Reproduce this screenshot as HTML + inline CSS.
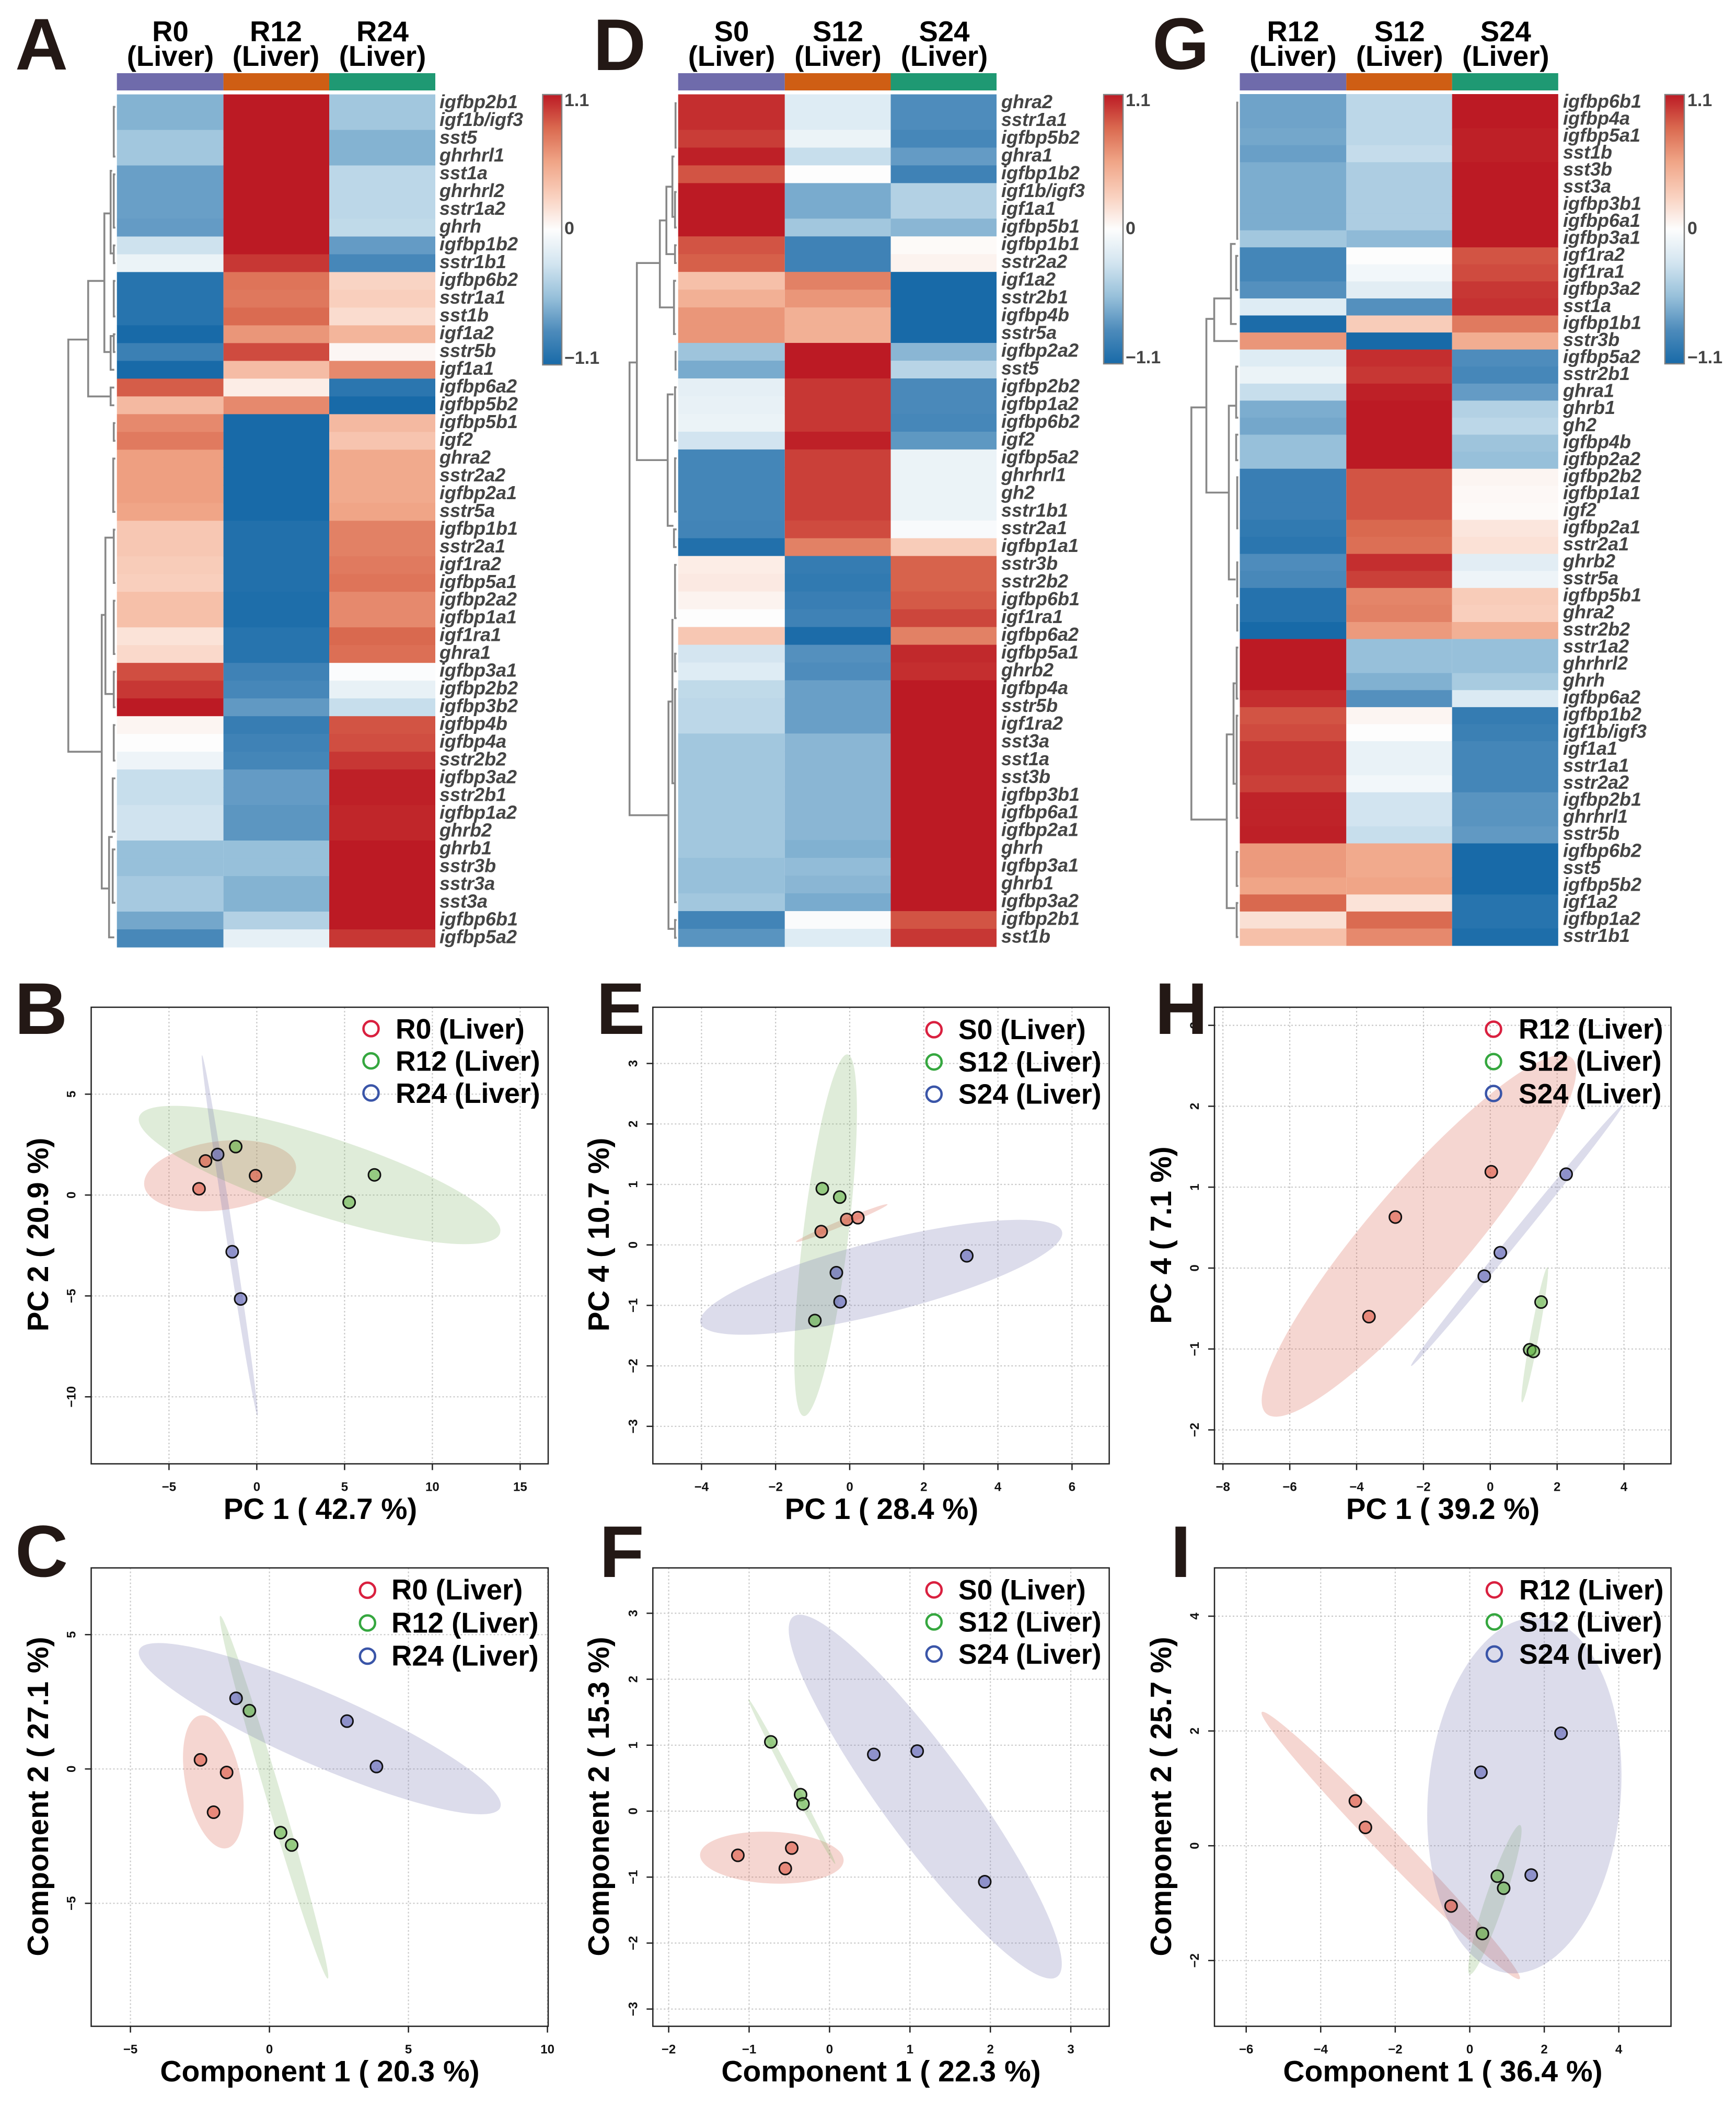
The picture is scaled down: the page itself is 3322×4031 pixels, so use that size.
<!DOCTYPE html>
<html lang="en">
<head>
<meta charset="utf-8">
<title>Liver heatmaps and ordination plots</title>
<style>
html,body{margin:0;padding:0;background:#fff;}
svg{display:block;font-family:"Liberation Sans",Arial,sans-serif;}
.letter{font-size:140px;font-weight:700;fill:#231815;}
.head{font-size:54.5px;font-weight:700;fill:#000;text-anchor:middle;}
.title{font-size:56.5px;font-weight:700;fill:#000;text-anchor:middle;}
.title2{font-size:57px;font-weight:700;fill:#000;text-anchor:middle;}
.leg{font-size:53.5px;font-weight:700;fill:#000;}
.leg2{font-size:54.5px;font-weight:700;fill:#000;}
.cb{font-size:34px;font-weight:700;fill:#444;}
</style>
</head>
<body>
<svg id="fig" xmlns="http://www.w3.org/2000/svg" width="3322" height="4031" viewBox="0 0 3322 4031">
<defs>
<linearGradient id="cbGrad" x1="0" y1="0" x2="0" y2="1">
<stop offset="0" stop-color="#bc1a24"/><stop offset=".125" stop-color="#da6a50"/><stop offset=".25" stop-color="#f0a587"/><stop offset=".375" stop-color="#f9d0be"/><stop offset=".5" stop-color="#fdfdfd"/><stop offset=".625" stop-color="#d3e5f0"/><stop offset=".75" stop-color="#97c0da"/><stop offset=".875" stop-color="#4d8bbb"/><stop offset="1" stop-color="#186aa8"/>
</linearGradient>
</defs>
<rect width="3322" height="4031" fill="#fff"/>

<g id="heat-a"></g>
<g id="heat-d"></g>
<g id="heat-g"></g>
<g id="plot-b"></g>
<g id="plot-c"></g>
<g id="plot-e"></g>
<g id="plot-f"></g>
<g id="plot-h"></g>
<g id="plot-i"></g>

<g>
<text class="head" x="326" y="79">R0</text><text class="head" x="326" y="126">(Liver)</text>
<text class="head" x="528" y="79">R12</text><text class="head" x="528" y="126">(Liver)</text>
<text class="head" x="732" y="79">R24</text><text class="head" x="732" y="126">(Liver)</text>
<text class="cb" x="1080" y="203">1.1</text><text class="cb" x="1080" y="448">0</text><text class="cb" x="1080" y="696">−1.1</text>
</g>
<g>
<text class="head" x="1400" y="79">S0</text><text class="head" x="1400" y="126">(Liver)</text>
<text class="head" x="1603.5" y="79">S12</text><text class="head" x="1603.5" y="126">(Liver)</text>
<text class="head" x="1807" y="79">S24</text><text class="head" x="1807" y="126">(Liver)</text>
<text class="cb" x="2154" y="203">1.1</text><text class="cb" x="2154" y="448">0</text><text class="cb" x="2154" y="695">−1.1</text>
</g>
<g>
<text class="head" x="2474.4" y="79">R12</text><text class="head" x="2474.4" y="126">(Liver)</text>
<text class="head" x="2678.2" y="79">S12</text><text class="head" x="2678.2" y="126">(Liver)</text>
<text class="head" x="2881.3" y="79">S24</text><text class="head" x="2881.3" y="126">(Liver)</text>
<text class="cb" x="3229" y="203">1.1</text><text class="cb" x="3229" y="448">0</text><text class="cb" x="3229" y="695">−1.1</text>
</g>

<g>
<text class="title" x="613" y="2906">PC 1 ( 42.7 %)</text>
<text class="title" transform="translate(92 2362) rotate(-90)">PC 2 ( 20.9 %)</text>
<text class="title2" x="612" y="3982">Component 1 ( 20.3 %)</text>
<text class="title2" transform="translate(92 3437) rotate(-90)">Component 2 ( 27.1 %)</text>
<text class="title" x="1687" y="2906">PC 1 ( 28.4 %)</text>
<text class="title" transform="translate(1165 2362) rotate(-90)">PC 4 ( 10.7 %)</text>
<text class="title2" x="1686" y="3982">Component 1 ( 22.3 %)</text>
<text class="title2" transform="translate(1165 3437) rotate(-90)">Component 2 ( 15.3 %)</text>
<text class="title" x="2761" y="2906">PC 1 ( 39.2 %)</text>
<text class="title" transform="translate(2241 2363) rotate(-90)">PC 4 ( 7.1 %)</text>
<text class="title2" x="2761" y="3982">Component 1 ( 36.4 %)</text>
<text class="title2" transform="translate(2241 3437) rotate(-90)">Component 2 ( 25.7 %)</text>
</g>

<g fill="none" stroke-width="4.5">
<circle cx="710" cy="1968" r="14.5" stroke="#d9203f"/><circle cx="710" cy="2029.6" r="14.5" stroke="#35a73f"/><circle cx="710" cy="2091" r="14.5" stroke="#3a55a8"/>
<text class="leg" x="757" y="1987" stroke="none">R0 (Liver)</text><text class="leg" x="757" y="2048.5" stroke="none">R12 (Liver)</text><text class="leg" x="757" y="2110" stroke="none">R24 (Liver)</text>
</g>
<g fill="none" stroke-width="4.5">
<circle cx="703.3" cy="3042.4" r="14.5" stroke="#d9203f"/><circle cx="703.3" cy="3105" r="14.5" stroke="#35a73f"/><circle cx="703.3" cy="3168.5" r="14.5" stroke="#3a55a8"/>
<text class="leg2" x="749" y="3060" stroke="none">R0 (Liver)</text><text class="leg2" x="749" y="3123.7" stroke="none">R12 (Liver)</text><text class="leg2" x="749" y="3186.5" stroke="none">R24 (Liver)</text>
</g>
<g fill="none" stroke-width="4.5">
<circle cx="1787.3" cy="1970" r="14.5" stroke="#d9203f"/><circle cx="1787.3" cy="2031.7" r="14.5" stroke="#35a73f"/><circle cx="1787.3" cy="2093.4" r="14.5" stroke="#3a55a8"/>
<text class="leg" x="1834" y="1988" stroke="none">S0 (Liver)</text><text class="leg" x="1834" y="2050" stroke="none">S12 (Liver)</text><text class="leg" x="1834" y="2111.7" stroke="none">S24 (Liver)</text>
</g>
<g fill="none" stroke-width="4.5">
<circle cx="1787.3" cy="3041.7" r="14.5" stroke="#d9203f"/><circle cx="1787.3" cy="3103" r="14.5" stroke="#35a73f"/><circle cx="1787.3" cy="3164.4" r="14.5" stroke="#3a55a8"/>
<text class="leg" x="1834" y="3060" stroke="none">S0 (Liver)</text><text class="leg" x="1834" y="3121.7" stroke="none">S12 (Liver)</text><text class="leg" x="1834" y="3183" stroke="none">S24 (Liver)</text>
</g>
<g fill="none" stroke-width="4.5">
<circle cx="2858" cy="1969" r="14.5" stroke="#d9203f"/><circle cx="2858" cy="2031" r="14.5" stroke="#35a73f"/><circle cx="2858" cy="2092" r="14.5" stroke="#3a55a8"/>
<text class="leg" x="2906" y="1987" stroke="none">R12 (Liver)</text><text class="leg" x="2906" y="2048.5" stroke="none">S12 (Liver)</text><text class="leg" x="2906" y="2111" stroke="none">S24 (Liver)</text>
</g>
<g fill="none" stroke-width="4.5">
<circle cx="2859.5" cy="3041.7" r="14.5" stroke="#d9203f"/><circle cx="2859.5" cy="3103" r="14.5" stroke="#35a73f"/><circle cx="2859.5" cy="3164.4" r="14.5" stroke="#3a55a8"/>
<text class="leg" x="2907" y="3060" stroke="none">R12 (Liver)</text><text class="leg" x="2907" y="3121.7" stroke="none">S12 (Liver)</text><text class="leg" x="2907" y="3183" stroke="none">S24 (Liver)</text>
</g>

<g>
<text class="letter" x="29" y="133">A</text>
<text class="letter" x="28" y="1978">B</text>
<text class="letter" x="29" y="3016">C</text>
<text class="letter" x="1135" y="134">D</text>
<text class="letter" x="1141" y="1978">E</text>
<text class="letter" x="1147" y="3017">F</text>
<text class="letter" x="2205" y="132">G</text>
<text class="letter" x="2210" y="1978">H</text>
<text class="letter" x="2240" y="3017">I</text>
</g>
</svg>

<script>
/* ---------- Heatmap A ---------- */
const aGenes = ["igfbp2b1","igf1b/igf3","sst5","ghrhrl1","sst1a","ghrhrl2","sstr1a2","ghrh","igfbp1b2","sstr1b1","igfbp6b2","sstr1a1","sst1b","igf1a2","sstr5b","igf1a1","igfbp6a2","igfbp5b2","igfbp5b1","igf2","ghra2","sstr2a2","igfbp2a1","sstr5a","igfbp1b1","sstr2a1","igf1ra2","igfbp5a1","igfbp2a2","igfbp1a1","igf1ra1","ghra1","igfbp3a1","igfbp2b2","igfbp3b2","igfbp4b","igfbp4a","sstr2b2","igfbp3a2","sstr2b1","igfbp1a2","ghrb2","ghrb1","sstr3b","sstr3a","sst3a","igfbp6b1","igfbp5a2"];
const aR0 = [-.62,-.62,-.5,-.5,-.72,-.72,-.72,-.74,-.3,-.12,-1.02,-1.02,-1.02,-1.1,-.92,-1.1,.87,.42,.68,.75,.58,.58,.58,.55,.33,.33,.3,.28,.38,.38,.16,.22,.92,1.0,1.1,.05,0,-.1,-.33,-.33,-.29,-.29,-.55,-.55,-.48,-.48,-.68,-.85];
const aR12 = [1.1,1.1,1.1,1.1,1.1,1.1,1.1,1.1,1.1,1.0,.78,.76,.82,.62,.93,.4,.1,.68,-1.1,-1.1,-1.1,-1.1,-1.1,-1.1,-1.05,-1.05,-1.05,-1.05,-1.07,-1.07,-1.02,-1.02,-.9,-.86,-.75,-.94,-.9,-.87,-.74,-.74,-.77,-.77,-.55,-.55,-.62,-.62,-.42,-.15];
const aR24 = [-.5,-.5,-.62,-.62,-.38,-.38,-.38,-.36,-.74,-.86,.25,.28,.2,.45,.04,.68,-1.0,-1.1,.42,.35,.52,.52,.52,.55,.72,.72,.75,.78,.68,.68,.83,.8,-.01,-.14,-.33,.9,.92,1.0,1.08,1.08,1.06,1.06,1.1,1.1,1.1,1.1,1.1,1.0];
const aDend = [[93,13.8,37,55,29],[55,10.5,17,24,12],[24,6.7,14.5,12,12],[12,16.5,17.5,5,5],[12,4.3,8.95,9,5],[12,13.6,15.5,7,5],[29,29.3,44.7,22,15],[22,24.95,33.75,7,7],[15,41.8,47.45,8,5],[6,.7,3.5,3,3],[6,4.5,7.5,3,3],[6,8.5,9.5,3,3],[6,10.5,12.5,3,3],[6,13.5,14.5,3,3],[6,18.5,19.5,3,3],[7,20.5,23.5,3,3],[6,24.5,27.5,3,3],[6,28.5,31.5,3,3],[6,32.5,34.5,3,3],[6,35.5,37.5,3,3],[8,38.5,41.5,3,3],[8,42.5,45.5,3,3]];

/* ---------- Heatmap D ---------- */
const dGenes = ["ghra2","sstr1a1","igfbp5b2","ghra1","igfbp1b2","igf1b/igf3","igf1a1","igfbp5b1","igfbp1b1","sstr2a2","igf1a2","sstr2b1","igfbp4b","sstr5a","igfbp2a2","sst5","igfbp2b2","igfbp1a2","igfbp6b2","igf2","igfbp5a2","ghrhrl1","gh2","sstr1b1","sstr2a1","igfbp1a1","sstr3b","sstr2b2","igfbp6b1","igf1ra1","igfbp6a2","igfbp5a1","ghrb2","igfbp4a","sstr5b","igf1ra2","sst3a","sst1a","sst3b","igfbp3b1","igfbp6a1","igfbp2a1","ghrh","igfbp3a1","ghrb1","igfbp3a2","igfbp2b1","sst1b"];
const dS0 = [1.03,1.03,.98,1.08,.9,1.1,1.1,1.1,.9,.86,.38,.48,.62,.62,-.52,-.66,-.16,-.14,-.12,-.28,-.87,-.87,-.87,-.87,-.88,-1.05,.1,.12,.06,0,.33,-.27,-.2,-.36,-.38,-.38,-.5,-.5,-.5,-.5,-.5,-.5,-.5,-.55,-.55,-.5,-.88,-.78];
const dS12 = [-.2,-.2,-.12,-.33,0,-.66,-.66,-.5,-.9,-.9,.72,.62,.48,.48,1.1,1.1,1.0,1.0,1.0,1.08,.97,.97,.97,.97,.93,.72,-.95,-.97,-.93,-.9,-1.08,-.8,-.82,-.72,-.72,-.72,-.6,-.6,-.6,-.6,-.6,-.6,-.63,-.57,-.6,-.66,-.02,-.2];
const dS24 = [-.82,-.82,-.86,-.74,-.9,-.42,-.42,-.6,.02,.06,-1.1,-1.1,-1.1,-1.1,-.6,-.4,-.84,-.84,-.86,-.76,-.12,-.12,-.12,-.12,-.03,.3,.85,.85,.88,.95,.72,1.05,1.03,1.1,1.1,1.1,1.1,1.1,1.1,1.1,1.1,1.1,1.1,1.1,1.1,1.1,.9,1.0];
const dDend = [[93,15.1,40.6,79,18.5],[79,9.5,20.6,35,20],[35,7.1,12,22.5,8],[22.5,5.2,9,11,7],[11,3.5,6.9,7,7],[8,10.5,13.5,4,4],[20,16.9,24.3,9,9],[18.5,34.2,47,11,8],[11,29.6,38.8,9,7],[5,.5,3,3,3],[6,5.5,7.5,3,3],[6,8.5,9.5,3,3],[5,14.5,15.5,3,3],[6,16.5,19.5,3,3],[6,20.5,23.5,3,3],[8,24.5,25.5,3,3],[6,26.5,29.5,3,3],[6,31.5,32.5,3,3],[6,33.5,45.5,3,3],[6,46.5,47.5,3,3]];

/* ---------- Heatmap G ---------- */
const gGenes = ["igfbp6b1","igfbp4a","igfbp5a1","sst1b","sst3b","sst3a","igfbp3b1","igfbp6a1","igfbp3a1","igf1ra2","igf1ra1","igfbp3a2","sst1a","igfbp1b1","sstr3b","igfbp5a2","sstr2b1","ghra1","ghrb1","gh2","igfbp4b","igfbp2a2","igfbp2b2","igfbp1a1","igf2","igfbp2a1","sstr2a1","ghrb2","sstr5a","igfbp5b1","ghra2","sstr2b2","sstr1a2","ghrhrl2","ghrh","igfbp6a2","igfbp1b2","igf1b/igf3","igf1a1","sstr1a1","sstr2a2","igfbp2b1","ghrhrl1","sstr5b","igfbp6b2","sst5","igfbp5b2","igf1a2","igfbp1a2","sstr1b1"];
const gR12 = [-.7,-.7,-.68,-.72,-.65,-.65,-.65,-.65,-.5,-.87,-.87,-.8,-.2,-1.08,.62,-.2,-.12,-.33,-.65,-.68,-.55,-.55,-.93,-.93,-.93,-.97,-1.0,-.82,-.85,-1.03,-1.03,-1.1,1.1,1.1,1.1,1.03,.9,.93,1.0,1.0,.97,1.07,1.07,1.08,.6,.6,.55,.83,.18,.38];
const gS12 = [-.38,-.38,-.38,-.34,-.45,-.45,-.45,-.45,-.58,0,-.07,-.18,-.8,.3,-1.1,1.03,1.0,1.08,1.1,1.1,1.1,1.1,.9,.9,.9,.83,.8,1.03,.97,.7,.72,.6,-.55,-.55,-.63,-.8,.05,0,-.13,-.13,-.07,-.28,-.28,-.33,.52,.52,.55,.16,.82,.68];
const gS24 = [1.1,1.1,1.08,1.08,1.1,1.1,1.1,1.1,1.1,.9,.93,1.0,1.02,.75,.5,-.82,-.86,-.74,-.42,-.38,-.52,-.55,.05,.03,.02,.14,.17,-.18,-.1,.3,.28,.48,-.55,-.55,-.47,-.22,-.95,-.92,-.87,-.87,-.87,-.78,-.78,-.75,-1.1,-1.1,-1.1,-1.02,-1.02,-1.07];
const gDend = [[92.7,18.4,42.6,64,25],[64,13.2,23.4,49,21],[49,12,14.5,17,4],[17,8.8,13.5,8,6],[21,18.3,28.5,8,8],[25,37.6,47.8,12,9],[12,34.6,40.5,8,8],[5,.5,8.5,3,3],[7,9.5,11.5,3,3],[7,16,19,3,3],[7,20,21.5,3,3],[5,22.5,25.5,3,3],[5,27.5,29.5,3,3],[5,30,31.5,3,3],[6,32.5,35.5,3,3],[6,36.5,42.5,3,3],[6,44.5,46.5,3,3],[6,47.5,49.5,3,3]];

/* ---------- Scatter B ---------- */
const bTicksX = [-5,0,5,10,15];
const bTicksY = [5,0,-5,-10];
const bGroup = [0,0,0,1,1,1,2,2,2];
const bX = [-3.29,-2.92,-.07,-1.2,5.26,6.7,-2.23,-1.4,-.92];
const bY = [.31,1.69,.96,2.4,-.36,1.0,2.01,-2.81,-5.15];
const bEllipses = [[-6.41,.47,2.23,1.45,.45],[-6.7,3.88,13.85,-1.89,.207],[-3.12,6.93,.04,-10.94,.02]];

/* ---------- Scatter C ---------- */
const cTicksX = [-5,0,5,10];
const cTicksY = [5,0,-5];
const cGroup = [0,0,0,1,1,1,2,2,2];
const cX = [-2.48,-1.54,-2.01,-.72,.4,.8,-1.2,2.79,3.85];
const cY = [.34,-.13,-1.61,2.17,-2.37,-2.83,2.63,1.78,.09];
const cEllipses = [[-2.5,1.99,-1.54,-2.95,.41],[-1.77,5.7,2.1,-7.8,.04],[-4.68,4.44,8.3,-1.44,.183]];

/* ---------- Scatter E ---------- */
const eTicksX = [-4,-2,0,2,4,6];
const eTicksY = [3,2,1,0,-1,-2,-3];
const eGroup = [0,0,0,1,1,1,2,2,2];
const eX = [-.77,-.08,.22,-.74,-.27,-.94,-.36,-.26,3.16];
const eY = [.22,.42,.45,.93,.79,-1.25,-.46,-.94,-.18];
const eEllipses = [[-1.45,.05,1.02,.67,.06],[-.06,3.15,-1.24,-2.83,.124],[-4.03,-1.29,5.73,.22,.193]];

/* ---------- Scatter F ---------- */
const fTicksX = [-2,-1,0,1,2,3];
const fTicksY = [3,2,1,0,-1,-2,-3];
const fGroup = [0,0,0,1,1,1,2,2,2];
const fX = [-1.14,-.47,-.55,-.73,-.36,-.33,.55,1.09,1.93];
const fY = [-.67,-.56,-.87,1.05,.25,.11,.86,.91,-1.07];
const fEllipses = [[-1.61,-.66,.175,-.75,.36],[-1.01,1.7,.07,-.8,.035],[-.45,2.95,2.83,-2.51,.196]];

/* ---------- Scatter H ---------- */
const hTicksX = [-8,-6,-4,-2,0,2,4];
const hTicksY = [3,2,1,0,-1,-2];
const hGroup = [0,0,0,1,1,1,2,2,2];
const hX = [-3.63,-2.84,.03,1.52,1.18,1.29,-.18,.3,2.27];
const hY = [-.6,.63,1.19,-.42,-1.01,-1.03,-.1,.19,1.16];
const hEllipses = [[-6.7,-1.8,2.43,2.6,.2145],[.95,-1.66,1.71,.01,.06],[-2.37,-1.21,3.97,2.02,.03]];

/* ---------- Scatter I ---------- */
const iTicksX = [-6,-4,-2,0,2,4];
const iTicksY = [4,2,0,-2];
const iGroup = [0,0,0,1,1,1,2,2,2];
const iX = [-3.07,-2.8,-.5,.74,.91,.34,.3,2.45,1.65];
const iY = [.78,.32,-1.05,-.53,-.74,-1.53,1.28,1.96,-.51];
const iEllipses = [[-5.58,2.33,1.34,-2.32,.068],[0,-2.24,1.35,.36,.12],[1.88,3.97,1.05,-2.22,.54]];

const NS = "http://www.w3.org/2000/svg";
function mk(parent, tag, attrs) {
  const n = document.createElementNS(NS, tag);
  for (const k in attrs) n.setAttribute(k, attrs[k]);
  parent.appendChild(n);
  return n;
}

/* colour ramp: value in [-1.1, 1.1] */
const redStops = [[253,253,253],[249,208,190],[240,165,135],[218,106,80],[188,26,36]];
const blueStops = [[253,253,253],[211,229,240],[151,192,218],[77,139,187],[24,106,168]];
function heatColor(v) {
  const t = Math.min(1, Math.abs(v) / 1.1) * 4;
  const stops = v >= 0 ? redStops : blueStops;
  const i = Math.min(3, Math.floor(t));
  const f = t - i;
  const c = [0, 1, 2].map(function (k) { return Math.round(stops[i][k] + (stops[i + 1][k] - stops[i][k]) * f); });
  return "rgb(" + c.join(",") + ")";
}

const barColors = ["#6f6bab", "#cf5e14", "#1f9973"];

function drawHeat(id, xEdges, top, bottom, labelX, genes, cols, dend, cbX0, cbX1, cbY0, cbY1) {
  const g = document.getElementById(id);
  const rowH = (bottom - top) / genes.length;
  const yEdge = function (r) { return top + r * rowH; };

  cols.forEach(function (col, c) {
    const bar = mk(g, "rect", { x: xEdges[c], y: 140, width: xEdges[c + 1] - xEdges[c], height: 33, fill: barColors[c] });
    
    
    col.forEach(function (v, r) {
      const cell = mk(g, "rect", { x: xEdges[c], y: yEdge(r), width: xEdges[c + 1] - xEdges[c], height: rowH + .6, fill: heatColor(v) });
      
      
    });
  });

  genes.forEach(function (name, r) {
    const t = mk(g, "text", { x: labelX, y: yEdge(r) + rowH / 2 + 9.5, "font-size": 36, "font-weight": 700, "font-style": "italic", fill: "#444" });
    t.textContent = name;
    
    
  });

  const left = xEdges[0];
  dend.forEach(function (b) {
    const xm = left - b[0], y1 = yEdge(b[1]), y2 = yEdge(b[2]);
    const p = mk(g, "path", { d: "M" + (left - b[3]) + " " + y1 + "H" + xm + "V" + y2 + "H" + (left - b[4]), fill: "none", stroke: "#888", "stroke-width": 3.6 });
    
    
  });

  const cb = mk(g, "rect", { x: cbX0, y: cbY0, width: cbX1 - cbX0, height: cbY1 - cbY0, fill: "url(#cbGrad)", stroke: "#808080", "stroke-width": 2.5 });
  
  
}

function fmtTick(v) { return v < 0 ? "\u2212" + Math.abs(v) : String(v); }

const groupFill = ["rgba(215,91,71,.25)", "rgba(127,179,103,.25)", "rgba(115,115,175,.25)"];
const pointFill = ["rgba(222,84,64,.6)", "rgba(100,180,70,.6)", "rgba(90,95,180,.6)"];

function drawScatter(id, box, xZero, xUnit, yZero, yUnit, ticksX, ticksY, X, Y, grp, ells) {
  const g = document.getElementById(id);
  const sx = function (v) { return xZero + v * xUnit; };
  const sy = function (v) { return yZero - v * yUnit; };

  ticksX.forEach(function (v) {
    const px = sx(v);
    const gl = mk(g, "line", { x1: px, x2: px, y1: box.t, y2: box.b, stroke: "#c8c8c8", "stroke-width": 2.2, "stroke-dasharray": "3 4" });
    
    
    const tk = mk(g, "line", { x1: px, x2: px, y1: box.b, y2: box.b + 12, stroke: "#222", "stroke-width": 2.5 });
    
    
    const lb = mk(g, "text", { x: px, y: box.b + 52, "font-size": 24, "font-weight": 700, "text-anchor": "middle", fill: "#111" });
    lb.textContent = fmtTick(v);
    
    
  });
  ticksY.forEach(function (v) {
    const py = sy(v);
    const gl = mk(g, "line", { x1: box.l, x2: box.r, y1: py, y2: py, stroke: "#c8c8c8", "stroke-width": 2.2, "stroke-dasharray": "3 4" });
    
    
    const tk = mk(g, "line", { x1: box.l - 12, x2: box.l, y1: py, y2: py, stroke: "#222", "stroke-width": 2.5 });
    
    
    const lb = mk(g, "text", { transform: "translate(" + (box.l - 30) + " " + py + ") rotate(-90)", "font-size": 24, "font-weight": 700, "text-anchor": "middle", fill: "#111" });
    lb.textContent = fmtTick(v);
    
    
  });

  ells.forEach(function (e, i) {
    const x1 = sx(e[0]), y1 = sy(e[1]), x2 = sx(e[2]), y2 = sy(e[3]);
    const a = Math.hypot(x2 - x1, y2 - y1) / 2;
    const ang = Math.atan2(y2 - y1, x2 - x1) * 180 / Math.PI;
    const cx = (x1 + x2) / 2, cy = (y1 + y2) / 2;
    const el = mk(g, "ellipse", { cx: cx, cy: cy, rx: a, ry: a * e[4], transform: "rotate(" + ang + " " + cx + " " + cy + ")", fill: groupFill[i] });
    
    
  });

  X.forEach(function (v, i) {
    const c = mk(g, "circle", { cx: sx(v), cy: sy(Y[i]), r: 11.5, fill: pointFill[grp[i]], stroke: "#111", "stroke-width": 3 });
    
    
  });

  const frame = mk(g, "rect", { x: box.l, y: box.t, width: box.r - box.l, height: box.b - box.t, fill: "none", stroke: "#222", "stroke-width": 2.5 });
  
  
}

drawHeat("heat-a", [223.7, 427.6, 630, 833], 180.6, 1812, 841, aGenes, [aR0, aR12, aR24], aDend, 1038.5, 1075, 181, 698);
drawHeat("heat-d", [1297.7, 1501.8, 1704.5, 1907], 180.5, 1811, 1916, dGenes, [dS0, dS12, dS24], dDend, 2112, 2149, 181, 696);
drawHeat("heat-g", [2372.5, 2576.3, 2778.7, 2981.8], 180, 1809, 2991, gGenes, [gR12, gS12, gS24], gDend, 3186, 3223, 181, 696);

drawScatter("plot-b", { l: 174.5, r: 1049, t: 1927, b: 2800.5 }, 491.4, 33.6, 2286.3, 38.6, bTicksX, bTicksY, bX, bY, bGroup, bEllipses);
drawScatter("plot-c", { l: 174.5, r: 1049, t: 2999.6, b: 3876.6 }, 515.6, 53.2, 3384.3, 51.4, cTicksX, cTicksY, cX, cY, cGroup, cEllipses);
drawScatter("plot-e", { l: 1249.3, r: 2122.6, t: 1927, b: 2800.5 }, 1626, 70.9, 2381.7, 115.7, eTicksX, eTicksY, eX, eY, eGroup, eEllipses);
drawScatter("plot-f", { l: 1249.3, r: 2122.6, t: 2999.6, b: 3876.6 }, 1587.4, 153.9, 3465, 126.2, fTicksX, fTicksY, fX, fY, fGroup, fEllipses);
drawScatter("plot-h", { l: 2324, r: 3197.6, t: 1927, b: 2800.5 }, 2851.8, 63.95, 2426, 154.8, hTicksX, hTicksY, hX, hY, hGroup, hEllipses);
drawScatter("plot-i", { l: 2324, r: 3197.6, t: 2999.6, b: 3876.6 }, 2812.5, 71.3, 3531.2, 109.8, iTicksX, iTicksY, iX, iY, iGroup, iEllipses);
</script>
</body>
</html>
